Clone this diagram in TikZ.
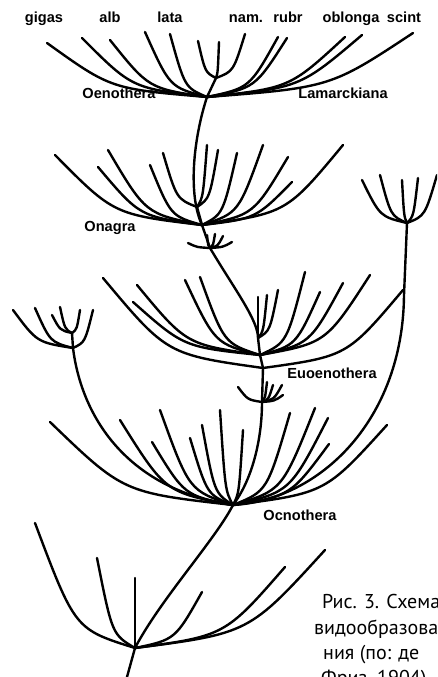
\documentclass[tikz,border=0pt]{standalone}
\usepackage{fontspec}
\setmainfont{Liberation Sans}
\newfontfamily\capfont{PT Sans}
\usetikzlibrary{calc}

% twig from a junction to a tip (tip given in pixels from the top)
\newcommand{\twig}[3]{\draw[twig] let \p1=(#1) in (#1) .. controls ({\x1+0.6*((#2)-(\x1))},{\y1+0.15*((-#3)-(\y1))}) .. (#2,-#3);}

\begin{document}
\begin{tikzpicture}[
    x=1pt, y=1pt,
    twig/.style={line width=2.4pt, line cap=round, line join=round},
    tag/.style={anchor=base, inner sep=0pt, font=\bfseries\fontsize{14.6}{17}\selectfont},
    note/.style={anchor=base west, inner sep=0pt, font=\capfont\fontsize{20}{25}\selectfont}
]
\useasboundingbox (0,0) rectangle (437,-677);
\clip (0,0) rectangle (437,-677);

% Junctions
\coordinate (oeno) at (207,-97);
\coordinate (oenoB) at (216,-78);
\coordinate (onag) at (202,-225);
\coordinate (onagB) at (197,-207);
\coordinate (cupA) at (210,-248);
\coordinate (euoe) at (260,-355);
\coordinate (euoeB) at (258,-338);
\coordinate (euoeC) at (263,-368);
\coordinate (cupB) at (262,-402);
\coordinate (ocno) at (233,-505);
\coordinate (root) at (135,-648);
\coordinate (base) at (127,-677);
\coordinate (rfan) at (407,-223);
\coordinate (rbend) at (404,-295);
\coordinate (lfan) at (73,-348);
\coordinate (lfanB) at (72,-333);

% Stems
\draw[twig] (oenoB) -- (oeno);
\draw[twig] (oeno) .. controls (193,-140) and (188,-195) .. (onag);
\draw[twig] (onagB) -- (onag) -- (cupA);
\draw[twig] (cupA) .. controls (235,-290) and (258,-320) .. (euoeB) -- (euoe) -- (euoeC) -- (cupB);
\draw[twig] (cupB) .. controls (262,-440) and (252,-480) .. (ocno);
\draw[twig] (ocno) .. controls (215,-540) and (160,-600) .. (root) -- (base);
\draw[twig] (lfanB) -- (lfan) .. controls (82,-420) and (130,-490) .. (ocno);
\draw[twig] (rfan) -- (rbend) .. controls (403,-420) and (320,-500) .. (ocno);

% Fans
\foreach \tx/\ty in {47/43, 82/38, 110/40, 145/32, 170/34, 278/37, 287/38, 345/37, 362/35, 413/33} {\twig{oeno}{\tx}{\ty}}
\foreach \tx/\ty in {198/41, 219/42, 245/34} {\twig{oenoB}{\tx}{\ty}}
\foreach \tx/\ty in {55/155, 108/150, 98/167, 150/165, 237/153, 263/145, 288/157, 292/182, 343/145} {\twig{onag}{\tx}{\ty}}
\foreach \tx/\ty in {163/153, 207/145, 218/150} {\twig{onagB}{\tx}{\ty}}
\foreach \tx/\ty in {188/243, 207/235, 215/234, 223/236, 232/242} {\twig{cupA}{\tx}{\ty}}
\foreach \tx/\ty in {137/285, 133/302, 185/280, 200/277, 305/272, 320/292, 343/283, 370/275} {\twig{euoe}{\tx}{\ty}}
\foreach \tx/\ty in {258/297, 267/295, 278/290} {\twig{euoeB}{\tx}{\ty}}
\foreach \tx/\ty in {103/278, 403/290} {\twig{euoeC}{\tx}{\ty}}
\foreach \tx/\ty in {238/387, 267/382, 273/385, 282/385, 283/395} {\twig{cupB}{\tx}{\ty}}
\foreach \tx/\ty in {50/422, 120/420, 152/442, 160/410, 190/438, 202/425, 220/410, 243/430, 290/413, 315/408, 328/418, 329/444, 387/425} {\twig{ocno}{\tx}{\ty}}
\foreach \tx/\ty in {35/523, 97/558, 135/578, 202/592, 285/567, 325/550} {\twig{root}{\tx}{\ty}}
\foreach \tx/\ty in {362/180, 380/175, 402/180, 418/178, 437/175} {\twig{rfan}{\tx}{\ty}}
\foreach \tx/\ty in {13/310, 35/308, 93/310} {\twig{lfan}{\tx}{\ty}}
\foreach \tx/\ty in {52/315, 60/307, 80/310} {\twig{lfanB}{\tx}{\ty}}

% Labels
\node[tag] (gigas) at (44,-23) {gigas};
\node[tag] (alb) at (110,-23) {alb};
\node[tag] (lata) at (170,-23) {lata};
\node[tag] (nam) at (246,-23) {nam.};
\node[tag] (rubr) at (288,-23) {rubr};
\node[tag] (oblonga) at (351,-23) {oblonga};
\node[tag] (scint) at (404,-23) {scint};
\node[tag] (oenothera) at (119,-99) {Oenothera};
\node[tag] (lamarck) at (343,-99) {Lamarckiana};
\node[tag] (onagra) at (110,-231) {Onagra};
\node[tag] (euoenothera) at (332,-378) {Euoenothera};
\node[tag] (ocnothera) at (300,-520) {Ocnothera};

% Caption
\node[note] (cap1) at (322,-608) {Рис. 3. Схема};
\node[note] (cap2) at (314,-634) {видообразова};
\node[note] (cap3) at (323,-659) {ния (по: де};
\node[note] (cap4) at (321,-684) {Фриз, 1904)};

\end{tikzpicture}
\end{document}
